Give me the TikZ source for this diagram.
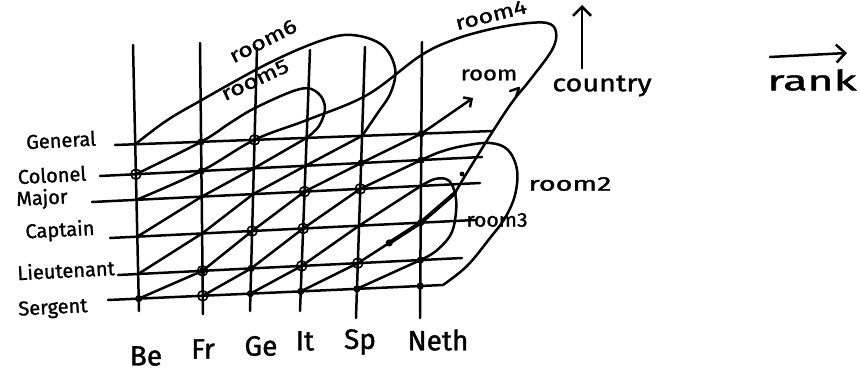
\documentclass[tikz,border=0pt]{standalone}
\usepackage{fontspec}
\setmainfont{Fira Sans}[FakeBold=1.2]
\usetikzlibrary{arrows.meta,intersections,calc}

\tikzset{
  pen/.style={line width=2.5pt,line cap=round,line join=round},
  ranklab/.style={font=\fontsize{20}{20}\selectfont,inner sep=0pt},
  landlab/.style={font=\fontsize{28}{28}\selectfont,inner sep=0pt},
  roomlab/.style={font=\fontsize{20}{20}\selectfont,inner sep=0pt,xscale=1.25},
  ring/.style={line width=1.6pt},
}

\begin{document}
\begin{tikzpicture}[x=1pt,y=-1pt,pen,>={Straight Barb[length=9pt,width=18pt]}]
  \useasboundingbox (0,0) rectangle (860,372);
  % --- rank lines, sergent (0) up to general (5) ---
  \foreach \j/\xl/\yl/\xr/\yr in {0/108/300/443/285,1/118/275/462/258,
      2/110/238/475/220,3/92/202/480/183,4/100/176/482/157,5/115/145/493/131} {
    \coordinate (hl\j) at (\xl,\yl);
    \coordinate (hr\j) at (\xr,\yr);
    \draw[name path global=h\j] (hl\j) -- (hr\j);
  }
  % --- country lines, Be (0) to Neth (5) ---
  \foreach \i/\xt/\yt/\xb/\yb in {0/133/45/139/311,1/200/43/203/314,
      2/257/48/250/311,3/310/50/300/311,4/365/47/356/318,5/422/42/420/318} {
    \coordinate (vt\i) at (\xt,\yt);
    \coordinate (vb\i) at (\xb,\yb);
    \draw[name path global=\i vert] (vt\i) -- (vb\i);
  }
  % crossings p<country><rank>
  \foreach \i in {0,...,5}
    \foreach \j in {0,...,5}
      \path[name intersections={of=\i vert and h\j,by={p\i\j}}];

  % --- diagonals, one country on and one rank up ---
  \draw (p01) -- (p12) -- (p23) -- (p34) -- (p45);
  \draw (p02) -- (p13) -- (p24) -- (p35);
  \draw (p10) -- (p21) -- (p32) -- (p43) -- (p54);
  \draw (p20) -- (p31) -- (p42) -- (p53);
  \draw (p30) -- (p41) -- (p52);
  \draw (p40) -- (p51);
  % the room that runs through the whole grid
  \coordinate (roomtip) at (473,98);
  \draw[->,>={Straight Barb[length=6pt,width=12pt]}]
    (p00) -- (p11) -- (p22) -- (p33) -- (p44) -- (p55) -- (roomtip);

  % --- rooms that turn back over the top ---
  \draw plot[smooth,tension=0.6] coordinates {(p05) (166,121) (200,101)
    (267,64) (320,41) (352,35) (382,45) (395,68) (391,92) (377,114) (p45)};
  \draw plot[smooth,tension=0.6] coordinates {(p04) (p15) (230,123)
    (257,107) (300,89) (318,93) (325,108) (319,126) (p35)};
  \coordinate (r3join) at (455,193);
  \draw plot[smooth,tension=0.6] coordinates {(p03) (p14) (p25) (307,120)
    (367,95) (420,56) (453,40) (487,30) (520,24) (547,23) (556,32) (552,50)
    (530,80) (513,101) (493,131) (465,176) (r3join)};
  \draw (510,91) -- (519,88) -- (516,97);
  % --- rooms that turn back on the right ---
  \draw plot[smooth,tension=0.6] coordinates {(p54) (440,152) (463,146)
    (490,143) (508,150) (517,170) (515,195) (505,218) (490,238) (467,266)
    (hr0)};
  \draw plot[smooth,tension=0.6] coordinates {(p53) (435,179) (448,180)
    (r3join) (456,212) (451,234) (436,251) (p51)};
  \draw[line width=4pt] ($(p41)!0.5!(p52)$) -- (p52) -- (r3join);

  % --- marked crossings ---
  \foreach \p in {p15,p55,p14,p44,p54,p52,p11,p21,p51,p00,p20,p30,p40,p50}
    \fill (\p) circle (3.6pt);
  \foreach \p in {p25,p04,p33,p43,p22,p32,p11,p31,p41,p10}
    \draw[ring] (\p) circle (5pt);
  \fill ($(p41)!0.5!(p52)$) circle (3.6pt);
  \fill (462,174) circle (2.4pt);

  % --- ranks ---
  \node[ranklab,rotate=3] (general) at (61,140) {General};
  \node[ranklab,rotate=3] (colonel) at (52,175) {Colonel};
  \node[ranklab,rotate=3] (major) at (42,199) {Major};
  \node[ranklab,rotate=3] (captain) at (60,231) {Captain};
  \node[ranklab,rotate=3] (lieutenant) at (66,270) {Lieutenant};
  \node[ranklab,rotate=3] (sergent) at (53,309) {Sergent};
  % --- countries ---
  \node[landlab] (be) at (146,356) {Be};
  \node[landlab] (fr) at (203,349) {Fr};
  \node[landlab] (ge) at (261,346) {Ge};
  \node[landlab] (it) at (305,341) {It};
  \node[landlab] (sp) at (360,342) {Sp};
  \node[landlab] (neth) at (438,340) {Neth};
  % --- room names ---
  \node[rotate=27,roomlab] (room6) at (263,41) {room6};
  \node[rotate=25,roomlab] (room5) at (255,80) {room5};
  \node[rotate=14,roomlab] (room4) at (491,15) {room4};
  \node[roomlab,xscale=0.95] (room) at (489,75) {room};
  \node[roomlab,xscale=1.15] (room2) at (570,184) {room2};
  \node[roomlab,xscale=0.85] (room3) at (497,220) {room3};
  % --- the two directions ---
  \node[font=\fontsize{24}{24}\selectfont,inner sep=0pt,xscale=1.2] (country) at (602,86) {country};
  \coordinate (countrytip) at (582,5);
  \draw[->,shorten <=6pt] (country.north -| countrytip) -- (countrytip);
  \node[font=\fontsize{28}{28}\selectfont,inner sep=0pt,xscale=1.6] (rank) at (812,80) {rank};
  \coordinate (ranktail) at (770,57);
  \coordinate (ranktip) at (847,53);
  \draw[->] (ranktail) -- (ranktip);
\end{tikzpicture}
\end{document}
